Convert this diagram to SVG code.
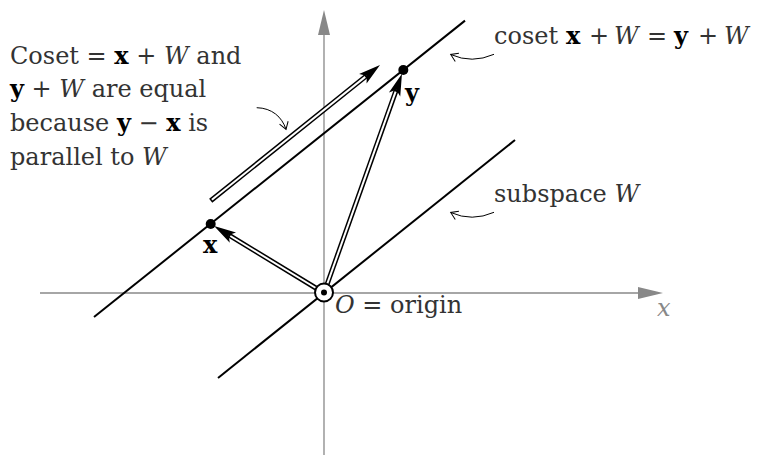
<svg xmlns="http://www.w3.org/2000/svg" xmlns:xlink="http://www.w3.org/1999/xlink" width="758" height="459" viewBox="0 0 758 459">
<style>
.axis{stroke:#888;stroke-width:1.3;fill:none}
.axhead{fill:#888}
.line{stroke:#000;stroke-width:2;fill:none}
.vb{stroke:#000;stroke-width:5;fill:none}
.vw{stroke:#fff;stroke-width:2;fill:none}
.curve{stroke:#000;stroke-width:1;fill:none}
text{font-family:"DejaVu Serif","Liberation Serif",serif;font-size:24px;fill:#333}
.b{font-weight:bold;fill:#000}
.i{font-style:italic}
.ax{fill:#888;font-style:italic}
</style>
<defs>
<polygon id="ah" points="0,0 -22,-6 -17,0 -22,6" fill="#000"/>
<marker id="open" markerUnits="userSpaceOnUse" markerWidth="20" markerHeight="20" refX="0" refY="0" orient="auto" overflow="visible">
<path d="M-7,-4.5 L0,0 L-7,4.5" fill="none" stroke="#000" stroke-width="1"/>
</marker>
</defs>
<g id="axes">
<line class="axis" x1="324" y1="33" x2="324" y2="455"/>
<polygon class="axhead" points="324,10 318,35 330,35"/>
<line class="axis" x1="40" y1="293" x2="640" y2="293"/>
<polygon class="axhead" points="663,293 638,287 638,299"/>
<text class="ax" x="657" y="316">x</text>
</g>
<g id="subspace">
<line class="line" x1="218" y1="378" x2="515" y2="140"/>
</g>
<g id="coset">
<line class="line" x1="94" y1="317" x2="465" y2="20.6"/>
</g>
<g id="connectors">
<path class="vb" d="M324,293 L396.3,89.8"/>
<path class="vw" d="M324,293 L395.6,91.7"/>
<use xlink:href="#ah" href="#ah" transform="translate(401.96,73.77) rotate(-70.4)"/>
<path class="vb" d="M324,293 L228.6,234.9"/>
<path class="vw" d="M324,293 L230.3,236"/>
<use xlink:href="#ah" href="#ah" transform="translate(214.1,226.1) rotate(-148.7)"/>
<path class="vb" d="M210.7,200.7 L366.7,75.6"/>
<path class="vw" d="M211.9,199.8 L365.2,76.9"/>
<use xlink:href="#ah" href="#ah" transform="translate(380,65) rotate(-38.7)"/>
<path class="curve" d="M256.7,107.7 C272,108 282,117 286,129.3" marker-end="url(#open)"/>
<path class="curve" d="M494,54.3 Q472,64 450.7,54.5" marker-end="url(#open)"/>
<path class="curve" d="M494,212.3 Q472,222 450.7,212.5" marker-end="url(#open)"/>
</g>
<g id="point-x">
<circle cx="210.7" cy="224" r="5" fill="#000"/>
<text class="b" x="203" y="253">x</text>
</g>
<g id="point-y">
<circle cx="403.3" cy="70" r="5" fill="#000"/>
<text class="b" x="405" y="101">y</text>
</g>
<g id="origin">
<circle cx="324" cy="292.5" r="9" fill="#fff" stroke="#000" stroke-width="2"/>
<circle cx="324" cy="292.5" r="3" fill="#000"/>
<text x="335" y="313"><tspan class="i">O</tspan> = origin</text>
</g>
<g id="label-equal">
<text x="10" y="63.5">Coset = <tspan class="b">x</tspan> + <tspan class="i">W</tspan> and</text>
<text x="10" y="96.5"><tspan class="b">y</tspan> + <tspan class="i">W</tspan> are equal</text>
<text x="10" y="130.5">because <tspan class="b">y</tspan> − <tspan class="b">x</tspan> is</text>
<text x="10" y="165">parallel to <tspan class="i">W</tspan></text>
</g>
<g id="label-coset">
<text x="494" y="44">coset<tspan class="b" x="566">x</tspan><tspan x="589">+</tspan><tspan class="i" x="614">W</tspan><tspan x="647">=</tspan><tspan class="b" x="674">y</tspan><tspan x="698">+</tspan><tspan class="i" x="724">W</tspan></text>
</g>
<g id="label-subspace">
<text x="494" y="202">subspace <tspan class="i">W</tspan></text>
</g>
</svg>
